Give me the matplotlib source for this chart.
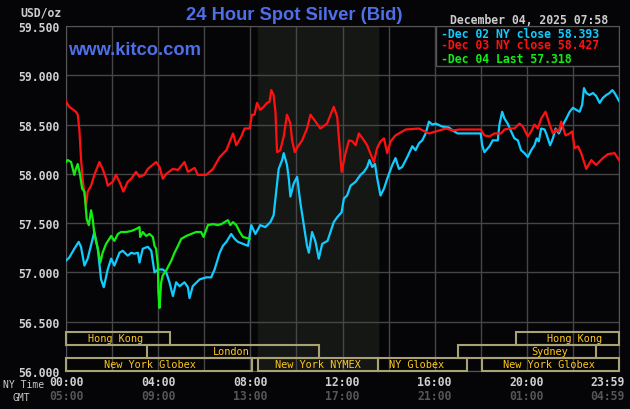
import matplotlib
matplotlib.use("Agg")
import matplotlib.pyplot as plt
from matplotlib.patches import Rectangle
from matplotlib.transforms import blended_transform_factory

# Dec 02 (cyan) - hours since NY midnight, bid price
dec02_hours = [0.0, 0.14, 0.36, 0.55, 0.65, 0.80, 0.94, 1.09, 1.23, 1.38, 1.52, 1.64, 1.81, 1.96,
               2.10, 2.32, 2.46, 2.68, 2.83, 2.97, 3.12, 3.19, 3.33, 3.55, 3.70, 3.84, 3.99, 4.20,
               4.35, 4.49, 4.64, 4.78, 4.93, 5.14, 5.29, 5.36, 5.50, 5.80, 6.09, 6.30, 6.45, 6.67,
               6.81, 6.96, 7.17, 7.32, 7.46, 7.68, 7.90, 8.04, 8.12, 8.22, 8.43, 8.65, 8.87, 9.01,
               9.12, 9.23, 9.38, 9.45, 9.59, 9.67, 9.74, 9.88, 10.03, 10.17, 10.32, 10.46, 10.54,
               10.68, 10.83, 10.97, 11.12, 11.35, 11.48, 11.62, 11.77, 11.96, 12.06, 12.20, 12.35,
               12.57, 12.78, 12.93, 13.07, 13.17, 13.29, 13.41, 13.51, 13.65, 13.80, 13.94, 14.16,
               14.30, 14.45, 14.59, 14.81, 15.03, 15.17, 15.32, 15.46, 15.61, 15.75, 15.90, 16.04,
               16.33, 16.62, 16.78, 17.00, 18.00, 18.06, 18.16, 18.38, 18.52, 18.74, 18.81, 18.93,
               19.03, 19.17, 19.32, 19.46, 19.61, 19.75, 19.90, 20.04, 20.19, 20.33, 20.43, 20.52,
               20.62, 20.77, 20.87, 21.01, 21.13, 21.25, 21.39, 21.57, 21.71, 21.86, 22.00, 22.14,
               22.29, 22.40, 22.48, 22.58, 22.72, 22.87, 23.01, 23.16, 23.30, 23.45, 23.59, 23.71,
               23.81, 24.00]
dec02_prices = [57.12, 57.15, 57.24, 57.31, 57.26, 57.07, 57.14, 57.28, 57.41, 57.24, 56.93, 56.85,
                57.03, 57.14, 57.07, 57.20, 57.22, 57.17, 57.20, 57.19, 57.20, 57.10, 57.24, 57.26,
                57.22, 57.00, 57.03, 57.03, 57.00, 56.90, 56.76, 56.90, 56.86, 56.90, 56.85, 56.74,
                56.86, 56.93, 56.95, 56.95, 57.03, 57.20, 57.27, 57.31, 57.39, 57.34, 57.31, 57.29,
                57.27, 57.48, 57.44, 57.39, 57.48, 57.46, 57.51, 57.58, 57.82, 58.05, 58.14, 58.21,
                58.09, 57.95, 57.77, 57.90, 57.97, 57.71, 57.48, 57.27, 57.20, 57.41, 57.31, 57.14,
                57.29, 57.32, 57.41, 57.51, 57.56, 57.61, 57.75, 57.78, 57.88, 57.92, 57.99, 58.02,
                58.07, 58.14, 58.07, 58.10, 57.95, 57.78, 57.85, 57.95, 58.09, 58.16, 58.05, 58.07,
                58.17, 58.28, 58.24, 58.31, 58.34, 58.41, 58.53, 58.50, 58.51, 58.48, 58.47, 58.44,
                58.41, 58.41, 58.29, 58.22, 58.28, 58.34, 58.34, 58.50, 58.63, 58.56, 58.51, 58.43,
                58.36, 58.34, 58.24, 58.21, 58.17, 58.24, 58.29, 58.36, 58.33, 58.46, 58.45, 58.39,
                58.29, 58.36, 58.46, 58.41, 58.50, 58.56, 58.63, 58.67, 58.65, 58.63, 58.70, 58.87,
                58.82, 58.80, 58.82, 58.79, 58.72, 58.77, 58.80, 58.82, 58.85, 58.82, 58.74]

# Dec 03 (red)
dec03_hours = [0.0, 0.14, 0.43, 0.51, 0.58, 0.65, 0.72, 0.87, 0.94, 1.09, 1.23, 1.45, 1.59, 1.74,
               1.81, 2.03, 2.17, 2.32, 2.49, 2.68, 2.83, 3.04, 3.19, 3.40, 3.55, 3.91, 4.06, 4.20,
               4.35, 4.64, 4.86, 5.14, 5.29, 5.58, 5.72, 6.09, 6.38, 6.67, 6.96, 7.25, 7.39, 7.61,
               7.75, 7.97, 8.07, 8.18, 8.29, 8.43, 8.58, 8.72, 8.83, 8.91, 9.01, 9.09, 9.16, 9.30,
               9.45, 9.59, 9.74, 9.81, 9.93, 10.07, 10.25, 10.46, 10.61, 10.83, 11.04, 11.33, 11.62,
               11.77, 11.87, 11.96, 12.13, 12.28, 12.43, 12.57, 12.71, 12.93, 13.07, 13.29, 13.36,
               13.50, 13.65, 13.80, 13.94, 14.09, 14.30, 14.74, 15.32, 15.75, 16.20, 16.49, 16.78,
               17.07, 18.00, 18.16, 18.38, 18.59, 18.88, 19.03, 19.25, 19.46, 19.68, 19.83, 20.04,
               20.19, 20.33, 20.48, 20.62, 20.81, 20.99, 21.13, 21.28, 21.39, 21.49, 21.68, 21.86,
               21.97, 22.07, 22.22, 22.36, 22.58, 22.80, 23.01, 23.30, 23.52, 23.81, 24.00]
dec03_prices = [58.735, 58.68, 58.63, 58.60, 58.45, 58.16, 57.95, 57.68, 57.82, 57.88, 57.99, 58.12,
                58.05, 57.95, 57.88, 57.92, 57.99, 57.92, 57.82, 57.92, 57.95, 58.02, 57.97, 57.99,
                58.05, 58.12, 58.07, 57.95, 58.00, 58.05, 58.04, 58.12, 58.02, 58.06, 57.99, 57.99,
                58.05, 58.17, 58.24, 58.41, 58.29, 58.38, 58.46, 58.46, 58.60, 58.60, 58.72, 58.65,
                58.68, 58.72, 58.73, 58.85, 58.80, 58.63, 58.22, 58.24, 58.38, 58.60, 58.51, 58.34,
                58.22, 58.28, 58.34, 58.46, 58.60, 58.53, 58.46, 58.51, 58.68, 58.58, 58.29, 58.02,
                58.21, 58.34, 58.33, 58.29, 58.41, 58.34, 58.29, 58.16, 58.12, 58.26, 58.33, 58.36,
                58.21, 58.33, 58.39, 58.45, 58.46, 58.41, 58.44, 58.46, 58.44, 58.45, 58.45, 58.39,
                58.38, 58.41, 58.41, 58.45, 58.46, 58.46, 58.51, 58.48, 58.38, 58.43, 58.50, 58.46,
                58.56, 58.63, 58.50, 58.41, 58.45, 58.43, 58.53, 58.39, 58.41, 58.43, 58.26, 58.28,
                58.21, 58.05, 58.14, 58.09, 58.16, 58.20, 58.21, 58.14]

# Dec 04 (green) - up to 07:58
dec04_hours = [0.0, 0.07, 0.22, 0.36, 0.43, 0.51, 0.61, 0.70, 0.80, 0.90, 0.99, 1.09, 1.16, 1.23,
               1.38, 1.49, 1.59, 1.74, 1.88, 1.96, 2.10, 2.25, 2.39, 2.61, 2.83, 3.04, 3.19, 3.22,
               3.33, 3.48, 3.62, 3.77, 3.84, 3.91, 3.99, 4.01, 4.06, 4.13, 4.20, 4.35, 4.57, 4.71,
               4.86, 5.00, 5.22, 5.43, 5.65, 5.86, 5.97, 6.16, 6.38, 6.59, 6.74, 6.88, 7.03, 7.13,
               7.25, 7.39, 7.54, 7.68, 7.83, 7.97]
dec04_prices = [58.12, 58.14, 58.12, 57.99, 58.05, 58.10, 57.99, 57.85, 57.82, 57.54, 57.48, 57.63,
                57.54, 57.39, 57.24, 57.10, 57.20, 57.29, 57.34, 57.37, 57.32, 57.39, 57.41, 57.41,
                57.42, 57.44, 57.46, 57.36, 57.41, 57.37, 57.39, 57.36, 57.27, 57.24, 57.07, 56.80,
                56.64, 56.90, 56.97, 57.02, 57.12, 57.20, 57.27, 57.34, 57.37, 57.39, 57.41, 57.41,
                57.36, 57.48, 57.49, 57.48, 57.49, 57.51, 57.53, 57.48, 57.51, 57.48, 57.41, 57.36,
                57.35, 57.34]

legend_labels = ["Dec 02 NY close 58.393", "Dec 03 NY close 58.427", "Dec 04 Last 57.318"]

# trading sessions: name, row (0 = top), start hour, end hour, label centre
session_names = ["Hong Kong", "Hong Kong", "London", "Sydney",
                 "New York Globex", "New York NYMEX", "NY Globex", "New York Globex"]
session_rows = [0, 0, 1, 1, 2, 2, 2, 2]
session_start = [0.0, 19.55, 3.53, 17.0, 0.0, 8.33, 13.55, 18.05]
session_end = [4.5, 24.0, 11.0, 23.0, 8.09, 13.53, 17.39, 24.0]
session_label_x = [2.14, 22.05, 7.17, 20.98, 3.66, 10.91, 15.2, 20.97]

ny_time_labels = ["00:00", "04:00", "08:00", "12:00", "16:00", "20:00"]
gmt_labels = ["05:00", "09:00", "13:00", "17:00", "21:00", "01:00"]
label_hours = [0, 4, 8, 12, 16, 20]

bg = "#050507"
mono = "DejaVu Sans Mono"

fig = plt.figure(figsize=(6.3, 4.1), dpi=100, facecolor=bg)
ax = fig.add_axes([66 / 630, 1 - 372 / 410, 553 / 630, 345 / 410], facecolor=bg)

ax.set_xlim(0, 24)
ax.set_ylim(56.0, 59.5)
ax.set_xticks(range(0, 25, 2))
ax.set_yticks([56.0 + 0.5 * i for i in range(8)])
ax.set_xticklabels([])
ax.set_yticklabels([f"{v:.3f}" for v in ax.get_yticks()], family=mono,
                   fontweight="bold", fontsize=8.3, color="#d0d0d0")
ax.tick_params(length=0, pad=5)
ax.grid(True, color="#464646", lw=1)
ax.set_axisbelow(True)
for s in ax.spines.values():
    s.set_color("#555555")

# NYMEX open outcry shading
ax.axvspan(8.33, 13.55, color="#151715", zorder=0)

ax.plot(dec02_hours, dec02_prices, color="#11ccff", lw=1.6, zorder=3)
ax.plot(dec03_hours, dec03_prices, color="#ff1111", lw=1.6, zorder=3)
ax.plot(dec04_hours, dec04_prices, color="#11ee11", lw=1.6, zorder=4)

# session boxes along the bottom
row_h = 0.132
for name, row, x0, x1, lx in zip(session_names, session_rows, session_start,
                                 session_end, session_label_x):
    y0 = 56.0 + (2 - row) * row_h
    ax.add_patch(Rectangle((x0, y0), x1 - x0, row_h, fill=False,
                           edgecolor="#a8a274", lw=1.5, zorder=5, clip_on=False))
    ax.text(lx, y0 + row_h / 2, name, ha="center", va="center", family=mono,
            fontsize=7.4, color="#ffc81a", zorder=6)

# legend box in the top right corner
leg_x0 = (435.7 - 66) / 553 * 24
leg_y0 = 59.5 - (66.7 - 27) / 98.57
ax.add_patch(Rectangle((leg_x0, leg_y0), 24 - leg_x0, 59.5 - leg_y0, facecolor=bg,
                       edgecolor="#555555", lw=1, zorder=7))
for lbl, col, yp in zip(legend_labels, ["#11ccff", "#ff1111", "#11ee11"], [34, 45.7, 59.3]):
    fig.text(441 / 630, 1 - yp / 410, "-" + lbl, family=mono, fontweight="bold",
             fontsize=8.3, color=col, va="center", ha="left", zorder=8)

# texts around the plot
fig.text(294 / 630, 1 - 16 / 410, "24 Hour Spot Silver (Bid)", ha="center", va="center",
         family="Liberation Sans", fontweight="bold", fontsize=13.2, color="#4f6fe8")
ax.text(0.1, 59.5 - (50 - 27) / 98.57, "www.kitco.com", ha="left", va="center",
        family="Liberation Sans", fontweight="bold", fontsize=13.2, color="#4f6fe8", zorder=6)
fig.text(608 / 630, 1 - 20 / 410, "December 04, 2025 07:58", ha="right", va="center",
         family=mono, fontweight="bold", fontsize=8.3, color="#cccccc")
fig.text(62 / 630, 1 - 13 / 410, "USD/oz", ha="right", va="center", family=mono,
         fontweight="bold", fontsize=8.3, color="#cccccc")
fig.text(3 / 630, 1 - 385 / 410, "NY Time", ha="left", va="center", family=mono,
         fontsize=7.0, color="#cccccc")
fig.text(12 / 630, 1 - 398 / 410, "GMT", ha="left", va="center", family=mono,
         fontsize=7.0, color="#cccccc")

tr = blended_transform_factory(ax.transData, fig.transFigure)
for h, ny, gmt in zip(label_hours, ny_time_labels, gmt_labels):
    ax.text(h, 1 - 383 / 410, ny, transform=tr, ha="center", va="center", family=mono,
            fontweight="bold", fontsize=8.3, color="#d0d0d0")
    ax.text(h, 1 - 397 / 410, gmt, transform=tr, ha="center", va="center", family=mono,
            fontweight="bold", fontsize=8.3, color="#555555")
fig.text(625 / 630, 1 - 383 / 410, "23:59", ha="right", va="center", family=mono,
         fontweight="bold", fontsize=8.3, color="#d0d0d0")
fig.text(625 / 630, 1 - 397 / 410, "04:59", ha="right", va="center", family=mono,
         fontweight="bold", fontsize=8.3, color="#555555")

fig.savefig("out.png", dpi=100, facecolor=bg)
